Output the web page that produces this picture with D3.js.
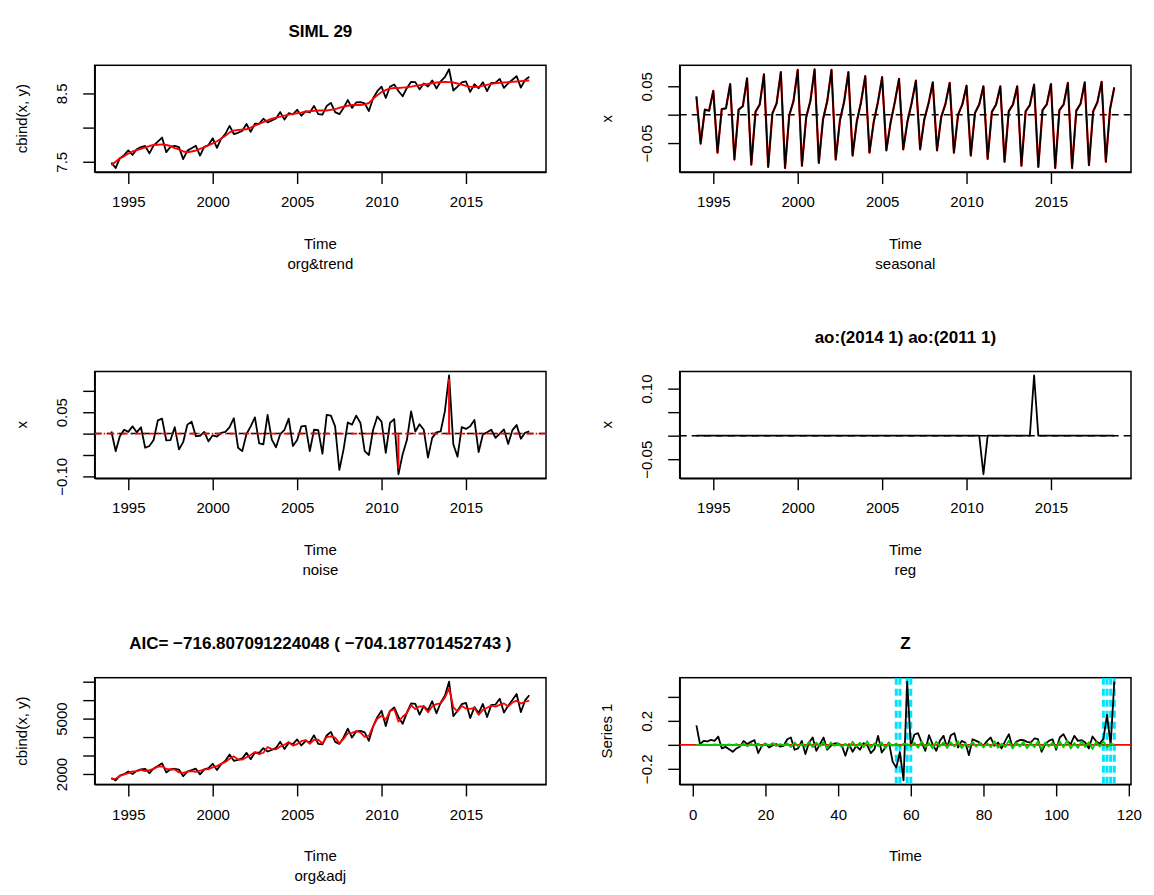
<!DOCTYPE html>
<html>
<head>
<meta charset="utf-8">
<script src="https://cdn.jsdelivr.net/npm/d3@7"></script>
<style>
  body { margin: 0; background: #fff; }
  svg { display: block; font-family: "Liberation Sans", Arial, Helvetica, sans-serif; }
</style>
</head>
<body>
<svg id="chart" width="1154" height="895"></svg>
<script>
// ---- data (quarterly, 1994 Q1 .. 2018 Q4) ----
var startYear = 1994;
var orgLog = [7.487, 7.408, 7.553, 7.596, 7.666, 7.600, 7.683, 7.716, 7.731, 7.622,
  7.739, 7.796, 7.854, 7.641, 7.720, 7.733, 7.714, 7.538, 7.663, 7.698,
  7.734, 7.591, 7.718, 7.746, 7.845, 7.703, 7.837, 7.908, 8.025, 7.906,
  7.924, 7.953, 8.053, 7.938, 8.058, 8.055, 8.130, 8.077, 8.104, 8.135,
  8.227, 8.117, 8.212, 8.193, 8.261, 8.174, 8.239, 8.221, 8.317, 8.197,
  8.191, 8.315, 8.362, 8.226, 8.197, 8.288, 8.403, 8.288, 8.368, 8.374,
  8.355, 8.243, 8.429, 8.533, 8.599, 8.433, 8.598, 8.632, 8.535, 8.459,
  8.580, 8.670, 8.665, 8.559, 8.645, 8.602, 8.690, 8.573, 8.676, 8.739,
  8.854, 8.543, 8.599, 8.663, 8.675, 8.523, 8.635, 8.575, 8.664, 8.534,
  8.656, 8.659, 8.712, 8.581, 8.647, 8.700, 8.753, 8.585, 8.697, 8.743];
var trendLog = [7.45, 7.50, 7.55, 7.58, 7.62, 7.65, 7.67, 7.69, 7.71, 7.73,
  7.745, 7.75, 7.755, 7.745, 7.73, 7.70, 7.68, 7.65, 7.64, 7.65,
  7.665, 7.69, 7.715, 7.74, 7.77, 7.80, 7.84, 7.88, 7.93, 7.955,
  7.965, 7.97, 7.975, 8.00, 8.03, 8.055, 8.08, 8.105, 8.13, 8.145,
  8.16, 8.175, 8.19, 8.20, 8.21, 8.22, 8.235, 8.24, 8.245, 8.25,
  8.25, 8.25, 8.26, 8.27, 8.29, 8.305, 8.32, 8.33, 8.33, 8.33,
  8.34, 8.36, 8.42, 8.475, 8.52, 8.55, 8.57, 8.58, 8.58, 8.585,
  8.59, 8.60, 8.61, 8.62, 8.63, 8.64, 8.65, 8.66, 8.665, 8.67,
  8.665, 8.66, 8.645, 8.63, 8.61, 8.60, 8.595, 8.60, 8.61, 8.625,
  8.64, 8.65, 8.655, 8.66, 8.665, 8.67, 8.675, 8.68, 8.685, 8.69];
var seasonal = [0.032, -0.051, 0.009, 0.007, 0.042, -0.067, 0.010, 0.011,
  0.054, -0.079, 0.009, 0.015, 0.064, -0.088, 0.005, 0.018,
  0.071, -0.092, 0.002, 0.020, 0.075, -0.094, -0.001, 0.024,
  0.079, -0.090, -0.005, 0.024, 0.080, -0.085, -0.008, 0.024,
  0.079, -0.079, -0.010, 0.023, 0.075, -0.072, -0.012, 0.022,
  0.068, -0.067, -0.013, 0.022, 0.066, -0.063, -0.014, 0.022,
  0.063, -0.061, -0.012, 0.021, 0.060, -0.061, -0.008, 0.020,
  0.057, -0.063, -0.004, 0.019, 0.056, -0.067, 0.000, 0.018,
  0.051, -0.072, 0.003, 0.018, 0.050, -0.078, 0.005, 0.018,
  0.050, -0.083, 0.006, 0.018, 0.050, -0.090, 0.006, 0.017,
  0.053, -0.092, 0.008, 0.018, 0.054, -0.094, 0.008, 0.018,
  0.056, -0.094, 0.007, 0.019, 0.057, -0.089, 0.006, 0.022,
  0.058, -0.083, 0.010, 0.048];
var noise = [0.005, -0.041, -0.006, 0.009, 0.004, 0.017, 0.003, 0.015, -0.033, -0.029,
  -0.015, 0.031, 0.035, -0.016, -0.015, 0.015, -0.037, -0.020, 0.021, 0.028,
  -0.006, -0.005, 0.004, -0.018, -0.004, -0.007, 0.002, 0.004, 0.015, 0.036,
  -0.033, -0.041, -0.001, 0.017, 0.038, -0.023, -0.025, 0.044, -0.014, -0.032,
  -0.001, 0.009, 0.035, -0.029, -0.015, 0.017, 0.018, -0.041, 0.009, 0.008,
  -0.047, 0.044, 0.042, 0.017, -0.085, -0.037, 0.026, 0.021, 0.042, 0.025,
  -0.041, -0.050, 0.009, 0.040, 0.028, -0.045, 0.025, 0.034, -0.095, -0.048,
  -0.015, 0.052, 0.005, 0.022, 0.009, -0.056, -0.010, 0.003, 0.005, 0.052,
  0.136, -0.025, -0.054, 0.015, 0.011, 0.017, 0.032, -0.043, -0.002, 0.003,
  0.009, -0.010, 0.000, 0.010, -0.024, 0.008, 0.020, -0.012, 0.002, 0.005];
var reg = [0, 0, 0, 0, 0, 0, 0, 0, 0, 0,
  0, 0, 0, 0, 0, 0, 0, 0, 0, 0,
  0, 0, 0, 0, 0, 0, 0, 0, 0, 0,
  0, 0, 0, 0, 0, 0, 0, 0, 0, 0,
  0, 0, 0, 0, 0, 0, 0, 0, 0, 0,
  0, 0, 0, 0, 0, 0, 0, 0, 0, 0,
  0, 0, 0, 0, 0, 0, 0, 0, -0.082, 0,
  0, 0, 0, 0, 0, 0, 0, 0, 0, 0,
  0.128, 0, 0, 0, 0, 0, 0, 0, 0, 0,
  0, 0, 0, 0, 0, 0, 0, 0, 0, 0];
var orgLevel = [1785, 1649, 1906, 1990, 2134, 1998, 2171, 2244, 2278, 2043,
  2296, 2430, 2576, 2082, 2253, 2282, 2239, 1878, 2128, 2204,
  2285, 1980, 2248, 2312, 2553, 2215, 2533, 2719, 3056, 2713,
  2763, 2844, 3143, 2802, 3159, 3149, 3395, 3219, 3308, 3412,
  3741, 3351, 3685, 3615, 3870, 3547, 3786, 3718, 4093, 3630,
  3608, 4085, 4281, 3737, 3630, 3976, 4460, 3976, 4307, 4333,
  4251, 3801, 4578, 5080, 5425, 4596, 5420, 5608, 5090, 4717,
  5324, 5825, 5796, 5213, 5682, 5443, 5943, 5287, 5860, 6242,
  7002, 5131, 5425, 5785, 5854, 5029, 5625, 5297, 5791, 5085,
  5745, 5762, 6076, 5329, 5693, 6003, 6329, 5350, 5984, 6266];
var adjLevel = [1728, 1735, 1889, 1976, 2047, 2137, 2149, 2219, 2158, 2210,
  2276, 2394, 2416, 2273, 2242, 2242, 2086, 2059, 2124, 2160,
  2120, 2175, 2251, 2257, 2359, 2423, 2545, 2654, 2821, 2954,
  2785, 2777, 2904, 3032, 3191, 3078, 3149, 3460, 3348, 3338,
  3494, 3583, 3733, 3537, 3622, 3778, 3839, 3637, 3843, 3858,
  3652, 3999, 4032, 3972, 3659, 3897, 4213, 4230, 4324, 4251,
  4015, 4064, 4578, 4989, 5157, 4939, 5404, 5508, 4841, 5100,
  5297, 5722, 5514, 5665, 5648, 5345, 5653, 5785, 5825, 6136,
  6641, 5625, 5382, 5682, 5547, 5525, 5581, 5203, 5475, 5586,
  5704, 5653, 5739, 5825, 5659, 5872, 5972, 5814, 5913, 5972];

// ---- Z panel (index 1..116) ----
var zSeries = [0.163, 0.005, 0.033, 0.028, 0.041, 0.033, 0.069, -0.030, -0.017, -0.036,
  -0.058, -0.030, -0.014, 0.033, 0.006, 0.025, 0.039, -0.069, -0.008, 0.011,
  -0.022, -0.003, 0.006, -0.014, -0.008, 0.047, 0.061, -0.041, -0.030, 0.033,
  -0.077, 0.019, 0.061, -0.050, 0.006, 0.061, -0.041, -0.008, 0.011, 0.011,
  -0.003, -0.091, 0.006, -0.058, -0.008, -0.041, 0.014, -0.003, -0.069, -0.036,
  0.075, -0.064, -0.022, 0.019, -0.140, -0.190, -0.060, -0.297, 0.527, -0.010,
  0.086, 0.097, 0.019, -0.050, 0.080, 0.006, -0.050, 0.033, 0.075, -0.022,
  0.080, 0.097, -0.022, 0.033, 0.019, -0.086, 0.047, 0.033, 0.019, -0.008,
  0.033, 0.061, -0.008, 0.019, -0.030, 0.033, 0.089, -0.022, 0.025, 0.041,
  0.039, 0.025, 0.019, 0.053, 0.047, -0.058, 0.006, 0.033, 0.047, -0.041,
  0.061, 0.089, 0.033, 0.006, 0.075, 0.033, 0.040, 0.020, -0.030, 0.070,
  0.030, 0.010, 0.050, 0.250, 0.000, 0.527];
var zFit = [0.000, 0.002, 0.001, 0.000, -0.002, 0.003, -0.001, 0.002, -0.003, 0.004,
  -0.004, 0.006, -0.008, 0.010, -0.012, 0.008, -0.006, 0.012, -0.015, 0.010,
  -0.005, 0.015, -0.010, 0.006, -0.004, 0.012, -0.018, 0.020, -0.012, 0.008,
  -0.015, 0.025, -0.020, 0.018, -0.010, 0.022, -0.028, 0.020, -0.008, 0.012,
  -0.018, 0.010, -0.022, 0.026, -0.015, 0.018, -0.020, 0.030, -0.025, 0.012,
  -0.010, 0.020, -0.028, 0.015, -0.008, 0.012, -0.015, 0.010, 0.005, -0.010,
  0.018, -0.025, 0.030, -0.020, 0.015, -0.030, 0.028, -0.012, 0.020, -0.025,
  0.022, -0.015, 0.030, -0.028, 0.012, -0.020, 0.025, -0.015, 0.018, -0.022,
  0.015, -0.020, 0.030, -0.025, 0.010, -0.018, 0.035, -0.030, 0.020, -0.015,
  0.025, -0.028, 0.015, -0.020, 0.030, -0.035, 0.020, -0.012, 0.018, -0.025,
  0.028, -0.020, 0.035, -0.030, 0.015, -0.025, 0.030, -0.018, 0.022, -0.035,
  0.025, -0.015, 0.030, -0.020, 0.010, 0.000];
var zMarks = [56, 57, 59, 60, 113, 114, 115, 116];

// ---- axis ticks and labels ----
var yearTicks = [1995, 2000, 2005, 2010, 2015];
var indexTicks = [0, 20, 40, 60, 80, 100, 120];
var orgTicks = [7.5, 8.0, 8.5], orgTickLabels = ["7.5", "", "8.5"];
var seasTicks = [-0.05, 0, 0.05], seasTickLabels = ["\u22120.05", "", "0.05"];
var noiseTicks = [-0.10, -0.05, 0, 0.05, 0.10], noiseTickLabels = ["\u22120.10", "", "", "0.05", ""];
var regTicks = [-0.05, 0, 0.05, 0.10], regTickLabels = ["\u22120.05", "", "", "0.10"];
var levelTicks = [2000, 3000, 4000, 5000, 6000, 7000], levelTickLabels = ["2000", "", "", "5000", "", ""];
var zTicks = [-0.2, 0, 0.2, 0.4], zTickLabels = ["\u22120.2", "", "0.2", ""];

// ---- layout (3 x 2 grid, R-style margins; figure is wider/taller than the window) ----
var svg = d3.select("#chart");
var cellW = 585, cellH = 306.2;
var W = 451.3, H = 106.7;
var marLeft = 94.7, marTop = 65.3;
var axisFont = 15, titleFont = 17;
var quarters = orgLog.map(function (d, i) { return startYear + i / 4; });
var zIndex = zSeries.map(function (d, i) { return i + 1; });

function padded(ext) {
  var d = (ext[1] - ext[0]) * 0.04;
  return [ext[0] - d, ext[1] + d];
}

function panel(p) {
  var left = p.col * cellW + marLeft, top = p.row * cellH + marTop;
  var g = svg.append("g");
  var x = d3.scaleLinear().domain(padded(p.xExt)).range([left, left + W]);
  var y = d3.scaleLinear().domain(padded(p.yExt)).range([top + H, top]);

  var xa = g.append("g")
    .attr("transform", "translate(0," + (top + H) + ")")
    .call(d3.axisBottom(x).tickValues(p.xTicks).tickFormat(d3.format("d"))
      .tickSize(12).tickPadding(12.5).tickSizeOuter(0));
  xa.attr("font-family", null).attr("font-size", null);
  xa.selectAll("text").attr("font-size", axisFont).attr("fill", "#000");
  xa.selectAll("line,path").attr("stroke", "#000").attr("stroke-width", 1.4);

  var ya = g.append("g")
    .attr("transform", "translate(" + left + ",0)")
    .call(d3.axisLeft(y).tickValues(p.yTicks)
      .tickFormat(function (d, i) { return p.yLabels[i]; })
      .tickSize(11.5).tickSizeOuter(0));
  ya.attr("font-family", null).attr("font-size", null);
  ya.selectAll("line,path").attr("stroke", "#000").attr("stroke-width", 1.4);
  ya.selectAll("text")
    .attr("font-size", axisFont).attr("fill", "#000")
    .attr("transform", "rotate(-90)")
    .attr("x", 0).attr("y", -27.5).attr("dy", null)
    .attr("text-anchor", "middle");

  g.append("rect")
    .attr("x", left).attr("y", top).attr("width", W).attr("height", H)
    .attr("fill", "none").attr("stroke", "#000").attr("stroke-width", 1.5);

  g.append("text")
    .attr("transform", "translate(" + (left - 68) + "," + (top + H / 2) + ") rotate(-90)")
    .attr("text-anchor", "middle").attr("font-size", axisFont)
    .text(p.ylab);
  g.append("text")
    .attr("x", left + W / 2).attr("y", top + H + 76.5)
    .attr("text-anchor", "middle").attr("font-size", axisFont)
    .text("Time");
  if (p.sub) {
    g.append("text")
      .attr("x", left + W / 2).attr("y", top + H + 96.5)
      .attr("text-anchor", "middle").attr("font-size", axisFont)
      .text(p.sub);
  }
  if (p.title) {
    g.append("text")
      .attr("x", left + W / 2).attr("y", top - 28.5)
      .attr("text-anchor", "middle").attr("font-size", titleFont).attr("font-weight", "bold")
      .text(p.title);
  }

  var clip = "clip" + p.row + p.col;
  g.append("clipPath").attr("id", clip).append("rect")
    .attr("x", left).attr("y", top).attr("width", W).attr("height", H);
  var plot = g.append("g").attr("clip-path", "url(#" + clip + ")");

  return {
    hline: function (v, color, width, dash) {
      plot.append("line")
        .attr("x1", left).attr("x2", left + W)
        .attr("y1", y(v)).attr("y2", y(v))
        .attr("stroke", color).attr("stroke-width", width)
        .attr("stroke-dasharray", dash || null);
    },
    vline: function (v, color, width, dash) {
      plot.append("line")
        .attr("x1", x(v)).attr("x2", x(v))
        .attr("y1", top).attr("y2", top + H)
        .attr("stroke", color).attr("stroke-width", width)
        .attr("stroke-dasharray", dash || null);
    },
    series: function (xs, ys, color, width, dash) {
      var line = d3.line()
        .x(function (d, i) { return x(xs[i]); })
        .y(function (d) { return y(d); });
      plot.append("path").datum(ys)
        .attr("d", line)
        .attr("fill", "none").attr("stroke", color)
        .attr("stroke-width", width).attr("stroke-linejoin", "round")
        .attr("stroke-dasharray", dash || null);
    },
    // type = "h": vertical bars from zero
    spikes: function (xs, ys, color, width) {
      plot.selectAll(null)
        .data(ys.map(function (v, i) { return [xs[i], v]; }).filter(function (d) { return d[1] !== 0; }))
        .enter().append("line")
        .attr("x1", function (d) { return x(d[0]); })
        .attr("x2", function (d) { return x(d[0]); })
        .attr("y1", y(0))
        .attr("y2", function (d) { return y(d[1]); })
        .attr("stroke", color).attr("stroke-width", width);
    }
  };
}

var timeExt = d3.extent(quarters);

// org & trend
var p1 = panel({ row: 0, col: 0, xExt: timeExt, xTicks: yearTicks,
  yExt: d3.extent(orgLog.concat(trendLog)), yTicks: orgTicks, yLabels: orgTickLabels,
  ylab: "cbind(x, y)", sub: "org&trend", title: "SIML 29" });
p1.series(quarters, orgLog, "#000", 1.8);
p1.series(quarters, trendLog, "#ff0000", 1.9);

// seasonal
var p2 = panel({ row: 0, col: 1, xExt: timeExt, xTicks: yearTicks,
  yExt: d3.extent(seasonal), yTicks: seasTicks, yLabels: seasTickLabels,
  ylab: "x", sub: "seasonal" });
p2.hline(0, "#000", 1.5, "7,5");
p2.series(quarters, seasonal, "#ff0000", 2.2);
p2.series(quarters, seasonal, "#000", 1.7);

// noise
var p3 = panel({ row: 1, col: 0, xExt: timeExt, xTicks: yearTicks,
  yExt: d3.extent(noise.concat(reg)), yTicks: noiseTicks, yLabels: noiseTickLabels,
  ylab: "x", sub: "noise" });
p3.series(quarters, noise, "#000", 1.8);
p3.hline(0, "#000", 1.5, "7,5");
p3.spikes(quarters, reg, "#ff0000", 2);
p3.hline(0, "#ff0000", 1.8, "6,3,1.5,3");

// reg
var p4 = panel({ row: 1, col: 1, xExt: timeExt, xTicks: yearTicks,
  yExt: d3.extent(reg), yTicks: regTicks, yLabels: regTickLabels,
  ylab: "x", sub: "reg", title: "ao:(2014 1) ao:(2011 1)" });
p4.hline(0, "#000", 1.5, "7,5");
p4.series(quarters, reg, "#000", 1.8);

// org & adj
var p5 = panel({ row: 2, col: 0, xExt: timeExt, xTicks: yearTicks,
  yExt: d3.extent(orgLevel.concat(adjLevel)), yTicks: levelTicks, yLabels: levelTickLabels,
  ylab: "cbind(x, y)", sub: "org&adj",
  title: "AIC= \u2212716.807091224048 ( \u2212704.187701452743 )" });
p5.series(quarters, orgLevel, "#000", 1.8);
p5.series(quarters, adjLevel, "#ff0000", 1.8);

// Z
var p6 = panel({ row: 2, col: 1, xExt: d3.extent(zIndex), xTicks: indexTicks,
  yExt: d3.extent(zSeries.concat(zFit)), yTicks: zTicks, yLabels: zTickLabels,
  ylab: "Series 1", title: "Z" });
zMarks.forEach(function (m) { p6.vline(m, "#00e5ff", 3, "7,4"); });
p6.series(zIndex, zSeries, "#000", 1.8);
p6.hline(0, "#ff0000", 1.6);
p6.series(zIndex, zFit, "#00cd00", 1.8);
</script>
</body>
</html>
